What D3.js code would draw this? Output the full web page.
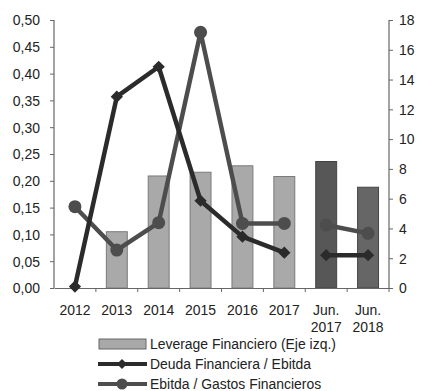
<!DOCTYPE html>
<html>
<head>
<meta charset="utf-8">
<script src="https://cdn.jsdelivr.net/npm/d3@7"></script>
<style>
  html, body { margin: 0; padding: 0; background: #fff; }
  svg { display: block; }
  text { font-family: "Liberation Sans", Arial, sans-serif; fill: #222; }
</style>
</head>
<body>
<svg id="chart" width="421" height="391"></svg>
<script>
// Periods on the x axis (two-line labels split by "\n")
const categories = ["2012", "2013", "2014", "2015", "2016", "2017", "Jun.\n2017", "Jun.\n2018"];
// Leverage Financiero (left axis)
const leverage = [0, 0.105, 0.209, 0.216, 0.228, 0.208, 0.236, 0.188];
// Deuda Financiera / Ebitda (right axis)
const deudaEbitda = [0.1, 12.85, 14.86, 5.86, 3.45, 2.37, 2.2, 2.2];
// Ebitda / Gastos Financieros (right axis)
const ebitdaGastos = [5.46, 2.55, 4.39, 17.17, 4.34, 4.34, 4.23, 3.67];
// Line segments: annual series and the half-year comparison are drawn separately
const segments = [[0, 5], [6, 7]];
const leftTicks = [0, 0.05, 0.10, 0.15, 0.20, 0.25, 0.30, 0.35, 0.40, 0.45, 0.50];
const rightTicks = [0, 2, 4, 6, 8, 10, 12, 14, 16, 18];
const legendLabels = ["Leverage Financiero (Eje izq.)", "Deuda Financiera / Ebitda", "Ebitda / Gastos Financieros"];

const FS = 15;          // font size
const SX = 0.93;        // horizontal condensing of the narrow typeface

const svg = d3.select("#chart");
const plotL = 54, plotR = 389, plotT = 20, plotB = 288;

const x = d3.scaleBand().domain(categories).range([plotL, plotR]).paddingInner(0.5).paddingOuter(0.25);
const xb = d3.scaleBand().domain(categories).range([plotL, plotR]);
const yL = d3.scaleLinear().domain([0, 0.5]).range([plotB, plotT]);
const yR = d3.scaleLinear().domain([0, 18]).range([plotB, plotT]);

const barFill = (d, i) => i === 6 ? "#575757" : i === 7 ? "#666" : "#a9a9a9";

// Bars
svg.append("g").selectAll("rect")
  .data(leverage)
  .join("rect")
  .attr("x", (d, i) => x(categories[i]))
  .attr("width", x.bandwidth())
  .attr("y", d => yL(d))
  .attr("height", d => plotB - yL(d))
  .attr("fill", barFill)
  .attr("stroke", (d, i) => i >= 6 ? "#444" : "#7a7a7a")
  .attr("stroke-width", 1)
  .style("display", d => d > 0 ? null : "none");

// Left axis
const axL = svg.append("g").attr("transform", `translate(${plotL},0)`)
  .call(d3.axisLeft(yL).tickValues(leftTicks).tickSize(4).tickPadding(10)
    .tickFormat(d => d3.format(".2f")(d).replace(".", ",")));
// Right axis
const axR = svg.append("g").attr("transform", `translate(${plotR},0)`)
  .call(d3.axisRight(yR).tickValues(rightTicks).tickSize(4).tickPadding(6));
// Bottom axis: ticks at category boundaries
const axB = svg.append("g").attr("transform", `translate(0,${plotB})`)
  .call(d3.axisBottom(xb).tickSize(0).tickFormat(""));
svg.append("g").selectAll("line")
  .data(categories)
  .join("line")
  .attr("x1", d => xb(d) + xb.bandwidth())
  .attr("x2", d => xb(d) + xb.bandwidth())
  .attr("y1", plotB).attr("y2", plotB + 4)
  .attr("stroke", "#666");

[axL, axR, axB].forEach(g => {
  g.select(".domain").attr("stroke", "#666").attr("stroke-width", 1.2);
  g.selectAll(".tick line").attr("stroke", "#666");
  g.selectAll(".tick text")
    .attr("font-size", FS).attr("fill", "#222")
    .attr("font-family", "Liberation Sans, Arial, sans-serif")
    .attr("x", function () { return +d3.select(this).attr("x") / SX; })
    .attr("transform", `scale(${SX},1)`);
});
axL.select(".domain").attr("d", `M0,${plotT}V${plotB}`);
axR.select(".domain").attr("d", `M0,${plotT}V${plotB}`);

// Category labels
svg.append("g").selectAll("g")
  .data(categories)
  .join("g")
  .attr("transform", d => `translate(${xb(d) + xb.bandwidth() / 2},315) scale(${SX},1)`)
  .append("text")
  .attr("text-anchor", "middle")
  .attr("font-size", FS)
  .each(function (d) {
    d.split("\n").forEach((t, k) => {
      d3.select(this).append("tspan")
        .attr("x", 0)
        .attr("dy", k === 0 ? 0 : 17)
        .text(t);
    });
  });

const cx = i => x(categories[i]) + x.bandwidth() / 2;
const line = d3.line().x(d => cx(d.i)).y(d => yR(d.v));

function drawSeries(values, color, marker) {
  const g = svg.append("g");
  segments.forEach(([a, b]) => {
    const pts = d3.range(a, b + 1).map(i => ({ i, v: values[i] }));
    g.append("path").attr("d", line(pts)).attr("fill", "none")
      .attr("stroke", color).attr("stroke-width", 4.5).attr("stroke-linejoin", "round");
  });
  values.forEach((v, i) => {
    if (marker === "circle") {
      g.append("circle").attr("cx", cx(i)).attr("cy", yR(v)).attr("r", 6.5).attr("fill", color);
    } else {
      g.append("path").attr("transform", `translate(${cx(i)},${yR(v)}) rotate(45)`)
        .attr("d", d3.symbol(d3.symbolSquare, 75)()).attr("fill", color);
    }
  });
}
drawSeries(ebitdaGastos, "#4d4d4d", "circle");
drawSeries(deudaEbitda, "#2b2b2b", "diamond");

// Legend
const lg = svg.append("g");
const rows = [344, 364, 384];
lg.append("rect").attr("x", 99).attr("y", rows[0] - 5).attr("width", 47).attr("height", 10)
  .attr("fill", "#a9a9a9").attr("stroke", "#666");
lg.append("line").attr("x1", 98).attr("x2", 147).attr("y1", rows[1]).attr("y2", rows[1])
  .attr("stroke", "#2b2b2b").attr("stroke-width", 4);
lg.append("path").attr("transform", `translate(122,${rows[1]}) rotate(45)`)
  .attr("d", d3.symbol(d3.symbolSquare, 50)()).attr("fill", "#2b2b2b");
lg.append("line").attr("x1", 98).attr("x2", 147).attr("y1", rows[2]).attr("y2", rows[2])
  .attr("stroke", "#4d4d4d").attr("stroke-width", 4);
lg.append("circle").attr("cx", 122).attr("cy", rows[2]).attr("r", 5.5).attr("fill", "#4d4d4d");
lg.selectAll("g.lab").data(legendLabels).join("g")
  .attr("class", "lab")
  .attr("transform", (d, i) => `translate(150,${rows[i] + 5}) scale(${SX},1)`)
  .append("text")
  .attr("font-size", FS)
  .text(d => d);
</script>
</body>
</html>
